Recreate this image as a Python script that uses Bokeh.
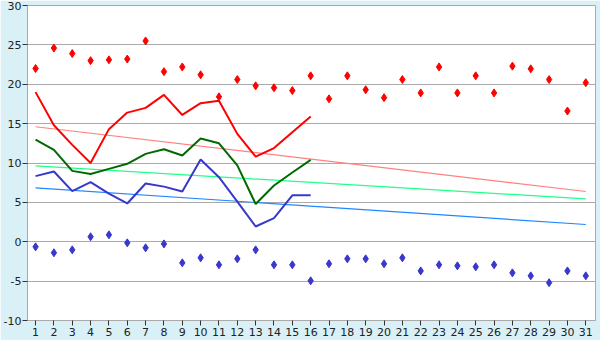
from bokeh.plotting import figure
from bokeh.models import Range1d, FixedTicker
from bokeh.embed import file_html
from bokeh.resources import INLINE

days = list(range(1, 32))
rec_max = [22.0, 24.6, 23.9, 23.0, 23.1, 23.2, 25.5, 21.6, 22.2, 21.2,
           18.4, 20.6, 19.8, 19.55, 19.2, 21.07, 18.15, 21.07, 19.3, 18.3,
           20.6, 18.9, 22.2, 18.9, 21.07, 18.9, 22.3, 21.96, 20.6, 16.6, 20.2]
rec_min = [-0.65, -1.4, -1.03, 0.63, 0.88, -0.14, -0.77, -0.27, -2.68, -2.04,
           -2.93, -2.17, -1.03, -2.93, -2.93, -4.96, -2.8, -2.17, -2.17, -2.8,
           -2.04, -3.7, -2.93, -3.06, -3.18, -2.93, -3.95, -4.33, -5.2, -3.7, -4.33]
obs_days = list(range(1, 17))
t_max = [19.0, 14.8, 12.3, 10.0, 14.3, 16.4, 17.0, 18.65, 16.1, 17.6,
         17.9, 13.7, 10.8, 11.9, 13.9, 15.9]
t_mean = [12.98, 11.67, 9.0, 8.6, 9.25, 9.9, 11.16, 11.75, 10.95, 13.1,
          12.5, 9.7, 4.8, 7.14, 8.8, 10.4]
t_min = [8.33, 8.92, 6.42, 7.57, 6.1, 4.86, 7.4, 7.0, 6.38, 10.44,
         8.2, 5.1, 1.94, 2.99, 5.9, 5.9]
trend_days = [1, 31]
norm_max = [14.6, 6.38]
norm_mean = [9.64, 5.45]
norm_min = [6.85, 2.19]
y_ticks = [-10, -5, 0, 5, 10, 15, 20, 25, 30]
y_labels = ["-10", "-5", "0", "5", "10", "15", "20", "25", "30"]

p = figure(width=600, height=340, output_backend="svg", toolbar_location=None,
           x_range=Range1d(0.56, 31.53), y_range=Range1d(-10, 30),
           min_border_left=26, min_border_right=5, min_border_top=5,
           min_border_bottom=20)
p.border_fill_color = "#D9F0F7"
p.background_fill_color = "white"
p.outline_line_color = "#AAAAAA"

p.xgrid.grid_line_color = None
p.ygrid.grid_line_color = "#AAAAAA"
p.ygrid.ticker = FixedTicker(ticks=y_ticks)

for ax in (p.xaxis[0], p.yaxis[0]):
    ax.axis_line_color = "#AAAAAA"
    ax.major_tick_line_color = "#333333"
    ax.major_tick_out = 5
    ax.major_tick_in = 0
    ax.minor_tick_line_color = None
    ax.major_label_text_font = "DejaVu Sans"
    ax.major_label_text_font_size = "11px"
    ax.major_label_text_color = "#222222"
    ax.major_label_standoff = 2
p.yaxis[0].major_label_standoff = 1
p.xaxis[0].ticker = FixedTicker(ticks=days)
p.yaxis[0].ticker = FixedTicker(ticks=y_ticks)
p.yaxis[0].major_label_overrides = {t: s for t, s in zip(y_ticks, y_labels)}

p.line(trend_days, norm_max, line_color="#FF8080", line_width=1.2)
p.line(trend_days, norm_mean, line_color="#22FF88", line_width=1.2)
p.line(trend_days, norm_min, line_color="#1E88FF", line_width=1.2)

p.line(obs_days, t_max, line_color="#FF0000", line_width=2)
p.line(obs_days, t_mean, line_color="#006A00", line_width=2)
p.line(obs_days, t_min, line_color="#3838CC", line_width=2)

p.scatter(days, rec_max, marker="diamond", size=8, fill_color="#FF0000",
          line_color="#FF0000")
p.scatter(days, rec_min, marker="diamond", size=8, fill_color="#3838CC",
          line_color="#3838CC")

open("out.html", "w").write(file_html(p, INLINE))
